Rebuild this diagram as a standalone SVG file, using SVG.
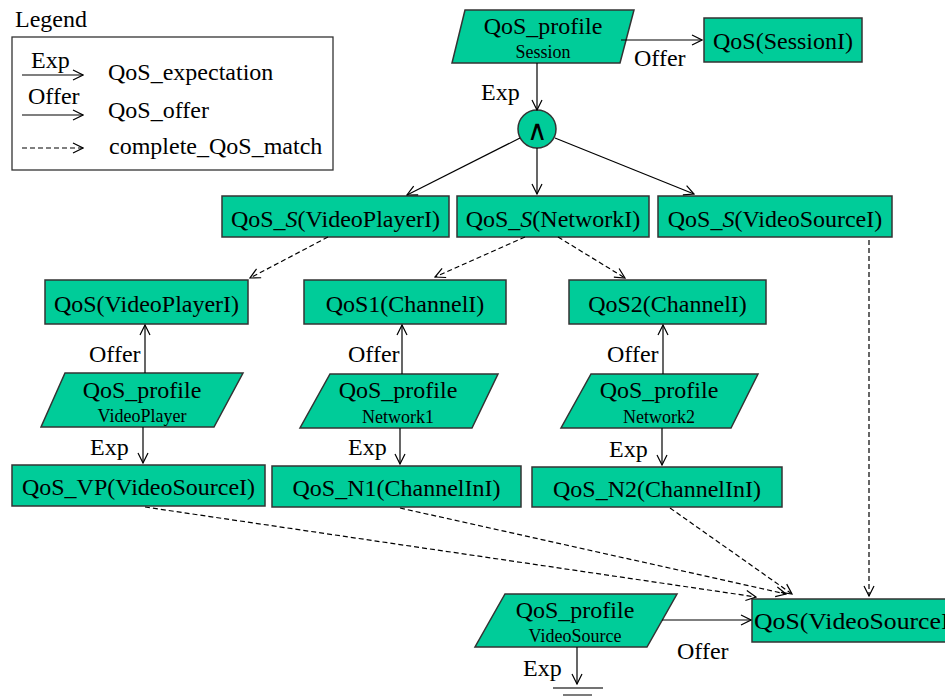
<svg xmlns="http://www.w3.org/2000/svg" width="945" height="700" viewBox="0 0 945 700">
  <defs>
    <style>
      .t { font-family: "Liberation Serif", "Times New Roman", serif; font-size: 24px; fill: #000; }
      .s { font-family: "Liberation Serif", "Times New Roman", serif; font-size: 18px; fill: #000; }
      .m { text-anchor: middle; }
      .node { fill: #00cc99; stroke: #333; stroke-width: 1.5; }
      .exp, .off { fill: none; stroke: #000; stroke-width: 1.2; marker-end: url(#head); }
      .match { fill: none; stroke: #000; stroke-width: 1.2; stroke-dasharray: 5 3; marker-end: url(#head); }
      .plain { fill: none; stroke: #444; stroke-width: 1.4; }
    </style>
    <marker id="head" viewBox="0 0 12 12" refX="11" refY="6" markerWidth="12" markerHeight="12" markerUnits="userSpaceOnUse" orient="auto">
      <path d="M1,1 L11,6 L1,11" fill="none" stroke="#000" stroke-width="1.2"/>
    </marker>
  </defs>
  <rect width="945" height="700" fill="#fff"/>

  <!-- legend -->
  <g id="legend">
    <text class="t" x="15" y="27">Legend</text>
    <rect x="12" y="37" width="321" height="133" fill="none" stroke="#333" stroke-width="1.3"/>
    <text class="t" x="31" y="68">Exp</text>
    <line class="exp" x1="22" y1="75" x2="83" y2="75"/>
    <text class="t" x="108" y="80">QoS_expectation</text>
    <text class="t" x="28" y="104">Offer</text>
    <line class="off" x1="22" y1="115" x2="83" y2="115"/>
    <text class="t" x="108" y="118">QoS_offer</text>
    <line class="match" x1="22" y1="148" x2="83" y2="148"/>
    <text class="t" x="109" y="154">complete_QoS_match</text>
  </g>

  <!-- nodes -->
  <g id="profile-session">
    <polygon class="node" points="465,10 634,10 620,63 452,63"/>
    <text class="t m" x="543" y="34">QoS_profile</text>
    <text class="s m" x="543" y="58">Session</text>
  </g>
  <g id="qos-session">
    <rect class="node" x="704" y="18" width="158" height="44"/>
    <text class="t m" x="783" y="49">QoS(SessionI)</text>
  </g>
  <g id="and-node">
    <circle class="node" cx="537" cy="129" r="19"/>
    <text class="t m" x="537" y="140" style="font-size:28px">∧</text>
  </g>
  <g id="s-videoplayer">
    <rect class="node" x="222" y="196" width="227" height="41"/>
    <text class="t m" x="335.5" y="227">QoS_<tspan font-style="italic">S</tspan>(VideoPlayerI)</text>
  </g>
  <g id="s-network">
    <rect class="node" x="457" y="196" width="192" height="41"/>
    <text class="t m" x="553" y="227">QoS_<tspan font-style="italic">S</tspan>(NetworkI)</text>
  </g>
  <g id="s-videosource">
    <rect class="node" x="658" y="196" width="234" height="41"/>
    <text class="t m" x="775" y="227">QoS_<tspan font-style="italic">S</tspan>(VideoSourceI)</text>
  </g>
  <g id="qos-videoplayer">
    <rect class="node" x="45" y="280" width="203" height="44"/>
    <text class="t m" x="146.5" y="312">QoS(VideoPlayerI)</text>
  </g>
  <g id="qos1-channel">
    <rect class="node" x="304" y="280" width="202" height="44"/>
    <text class="t m" x="405" y="312">QoS1(ChannelI)</text>
  </g>
  <g id="qos2-channel">
    <rect class="node" x="569" y="280" width="197" height="44"/>
    <text class="t m" x="667.5" y="312">QoS2(ChannelI)</text>
  </g>
  <g id="profile-videoplayer">
    <polygon class="node" points="65,373 243,373 214,427 41,427"/>
    <text class="t m" x="142" y="398">QoS_profile</text>
    <text class="s m" x="142" y="422">VideoPlayer</text>
  </g>
  <g id="profile-network1">
    <polygon class="node" points="330,374 498,374 472,428 300,428"/>
    <text class="t m" x="398" y="398">QoS_profile</text>
    <text class="s m" x="398" y="423">Network1</text>
  </g>
  <g id="profile-network2">
    <polygon class="node" points="591,374 758,374 731,428 561,428"/>
    <text class="t m" x="659" y="398">QoS_profile</text>
    <text class="s m" x="659" y="423">Network2</text>
  </g>
  <g id="vp-videosource">
    <rect class="node" x="12" y="465" width="253" height="41"/>
    <text class="t m" x="138.5" y="495">QoS_VP(VideoSourceI)</text>
  </g>
  <g id="n1-channelin">
    <rect class="node" x="272" y="466" width="249" height="41"/>
    <text class="t m" x="396.5" y="496">QoS_N1(ChannelInI)</text>
  </g>
  <g id="n2-channelin">
    <rect class="node" x="532" y="467" width="250" height="40"/>
    <text class="t m" x="657" y="497">QoS_N2(ChannelInI)</text>
  </g>
  <g id="profile-videosource">
    <polygon class="node" points="505,594 677,594 647,647 475,647"/>
    <text class="t m" x="575" y="618">QoS_profile</text>
    <text class="s m" x="575" y="642">VideoSource</text>
  </g>
  <g id="qos-videosource">
    <rect class="node" x="752" y="599" width="220" height="43"/>
    <text class="t" x="754" y="629" textLength="204" lengthAdjust="spacingAndGlyphs">QoS(VideoSourceI)</text>
  </g>
  <g id="ground">
    <line class="plain" x1="553" y1="688" x2="603" y2="688"/>
    <line class="plain" x1="563" y1="695" x2="592" y2="695"/>
  </g>

  <!-- connectors -->
  <g id="connectors">
    <line class="off" x1="621" y1="40" x2="702" y2="40"/>
    <text class="t" x="634" y="66">Offer</text>
    <line class="exp" x1="537" y1="63" x2="537" y2="110"/>
    <text class="t" x="481" y="100">Exp</text>
    <line class="exp" x1="520" y1="138" x2="407" y2="195"/>
    <line class="exp" x1="537" y1="148" x2="537" y2="194"/>
    <line class="exp" x1="555" y1="138" x2="694" y2="194"/>

    <line class="match" x1="328" y1="237" x2="250" y2="278"/>
    <line class="match" x1="525" y1="237" x2="435" y2="277"/>
    <line class="match" x1="558" y1="237" x2="625" y2="278"/>

    <line class="off" x1="145" y1="373" x2="145" y2="325"/>
    <text class="t" x="89" y="362">Offer</text>
    <line class="exp" x1="143" y1="427" x2="143" y2="463"/>
    <text class="t" x="90" y="455">Exp</text>

    <line class="off" x1="402" y1="374" x2="402" y2="325"/>
    <text class="t" x="348" y="362">Offer</text>
    <line class="exp" x1="400" y1="428" x2="400" y2="464"/>
    <text class="t" x="348" y="455">Exp</text>

    <line class="off" x1="663" y1="374" x2="663" y2="325"/>
    <text class="t" x="607" y="362">Offer</text>
    <line class="exp" x1="662" y1="428" x2="662" y2="465"/>
    <text class="t" x="609" y="457">Exp</text>

    <line class="match" x1="145" y1="507" x2="756" y2="597"/>
    <line class="match" x1="400" y1="508" x2="786" y2="594"/>
    <line class="match" x1="670" y1="508" x2="792" y2="594"/>
    <line class="match" x1="869" y1="240" x2="869" y2="596"/>

    <line class="off" x1="662" y1="620" x2="751" y2="620"/>
    <text class="t" x="677" y="659">Offer</text>
    <line class="exp" x1="577" y1="647" x2="577" y2="684"/>
    <text class="t" x="523" y="676">Exp</text>
  </g>
</svg>
